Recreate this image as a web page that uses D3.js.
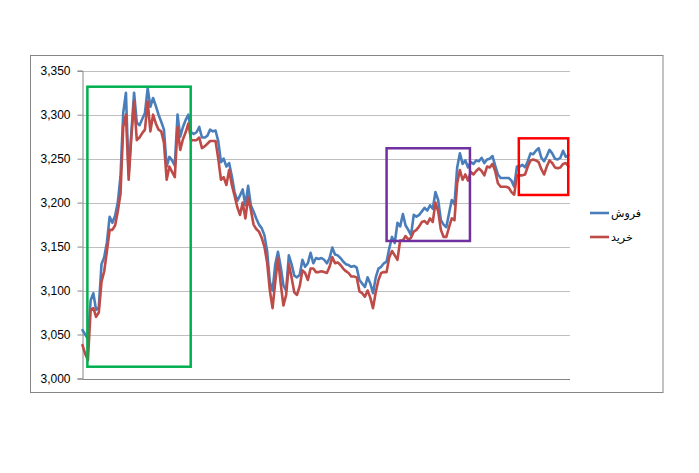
<!DOCTYPE html>
<html>
<head>
<meta charset="utf-8">
<script src="https://cdn.jsdelivr.net/npm/d3@7/dist/d3.min.js"></script>
<style>
  html, body { margin: 0; padding: 0; background: #fff; }
  svg { display: block; }
</style>
</head>
<body>
<div id="chart"></div>
<script>
// ---- data ----
const seriesNames = ["فروش", "خرید"];
const sellValues = [
  3055,3050,3045,3089,3097,3078,3081,3130,3138,3155,
  3184,3177,3185,3200,3230,3302,3325,3232,3280,3325,
  3291,3288,3295,3302,3330,3309,3319,3310,3300,3292,
  3283,3241,3252,3248,3242,3300,3275,3286,3294,3300,
  3280,3278,3280,3286,3274,3274,3276,3283,3281,3282,
  3270,3246,3250,3241,3245,3230,3212,3202,3208,3215,
  3197,3219,3197,3190,3182,3175,3171,3163,3145,3110,
  3100,3130,3144,3127,3106,3100,3140,3130,3117,3115,
  3118,3135,3127,3131,3143,3131,3137,3136,3137,3135,
  3131,3137,3149,3141,3140,3137,3133,3130,3129,3127,
  3128,3126,3112,3108,3104,3115,3108,3097,3115,3125,
  3127,3131,3133,3148,3161,3154,3177,3173,3187,3174,
  3169,3163,3186,3184,3186,3190,3194,3191,3197,3193,
  3212,3203,3180,3175,3172,3188,3203,3198,3240,3256,
  3244,3248,3240,3246,3244,3248,3247,3251,3245,3249,
  3250,3253,3242,3232,3228,3228,3228,3228,3225,3218,
  3241,3241,3243,3240,3247,3256,3255,3259,3262,3251,
  3247,3253,3260,3256,3250,3249,3251,3259,3252,3254
];
const buyValues = [
  3038,3028,3021,3078,3080,3070,3075,3110,3122,3145,
  3169,3169,3174,3190,3210,3286,3300,3226,3275,3315,
  3271,3274,3279,3283,3315,3281,3300,3290,3283,3281,
  3268,3226,3241,3235,3229,3286,3260,3272,3280,3290,
  3271,3271,3271,3274,3262,3264,3267,3270,3270,3270,
  3250,3226,3229,3220,3237,3220,3208,3195,3186,3200,
  3182,3206,3192,3175,3170,3167,3160,3150,3132,3100,
  3080,3110,3137,3108,3083,3095,3130,3115,3098,3095,
  3105,3123,3120,3112,3125,3125,3121,3121,3122,3121,
  3120,3127,3138,3131,3132,3129,3125,3122,3120,3116,
  3116,3115,3099,3097,3093,3100,3092,3080,3098,3112,
  3120,3121,3121,3138,3145,3140,3135,3157,3157,3162,
  3158,3160,3167,3169,3173,3178,3179,3176,3182,3178,
  3200,3190,3169,3161,3161,3172,3182,3180,3222,3237,
  3226,3232,3225,3235,3232,3236,3239,3236,3231,3241,
  3240,3244,3236,3222,3218,3218,3218,3217,3212,3209,
  3231,3231,3231,3232,3241,3248,3249,3248,3246,3238,
  3232,3241,3248,3245,3240,3239,3240,3244,3245,3241
];
const yTicks = [3000, 3050, 3100, 3150, 3200, 3250, 3300, 3350];
// annotation boxes in data units: [startIndex, endIndex, topValue, bottomValue]
const boxStart = [1.8, 112.0, 160.7];
const boxEnd = [39.85, 142.7, 178.9];
const boxTop = [3331.8, 3261.8, 3273.1];
const boxBottom = [3013.4, 3156.4, 3208.7];
const boxColors = ["#00b050", "#7030a0", "#ff0000"];
const seriesColors = ["#4a7ebb", "#be4b48"];

// ---- drawing ----
const W = 699, H = 473;
const svg = d3.select("#chart").append("svg").attr("width", W).attr("height", H);

// outer chart border
svg.append("rect")
  .attr("x", 30.5).attr("y", 55.5)
  .attr("width", 632.5).attr("height", 337)
  .attr("fill", "#fff").attr("stroke", "#868686").attr("stroke-width", 1);

const plotLeft = 82.5, plotRight = 570, plotTop = 70.7, plotBottom = 378.5;
const x = d3.scaleLinear().domain([0, sellValues.length - 1]).range([plotLeft, 568.5]);
const y = d3.scaleLinear().domain([3000, 3350]).range([plotBottom, plotTop]);

// gridlines
svg.append("g")
  .selectAll("line").data(yTicks.slice(1)).join("line")
  .attr("x1", plotLeft).attr("x2", plotRight)
  .attr("y1", d => Math.round(y(d)) + 0.5).attr("y2", d => Math.round(y(d)) + 0.5)
  .attr("stroke", "#bfbfbf").attr("stroke-width", 1);

// y axis
const yAxis = d3.axisLeft(y).tickValues(yTicks).tickSize(5).tickPadding(7)
  .tickFormat(d3.format(","));
const gy = svg.append("g").attr("transform", `translate(${plotLeft},0)`).call(yAxis);
gy.select(".domain").attr("stroke", "#868686");
gy.selectAll(".tick line").attr("stroke", "#868686");
gy.selectAll(".tick text")
  .attr("font-family", "'Liberation Sans', Arial, sans-serif")
  .attr("font-size", "12px").attr("fill", "#000");

// x axis line (bottom)
svg.append("line")
  .attr("x1", plotLeft).attr("x2", plotRight)
  .attr("y1", Math.round(y(3000)) + 0.5).attr("y2", Math.round(y(3000)) + 0.5)
  .attr("stroke", "#868686");

// series lines
const line = d3.line().x((d, i) => x(i)).y(d => y(d));
[sellValues, buyValues].forEach((vals, k) => {
  svg.append("path").datum(vals)
    .attr("d", line)
    .attr("fill", "none")
    .attr("stroke", seriesColors[k])
    .attr("stroke-width", 2.6)
    .attr("stroke-linejoin", "round")
    .attr("stroke-linecap", "round");
});

// annotation boxes
boxStart.forEach((s, k) => {
  svg.append("rect")
    .attr("x", x(s)).attr("y", y(boxTop[k]))
    .attr("width", x(boxEnd[k]) - x(s))
    .attr("height", y(boxBottom[k]) - y(boxTop[k]))
    .attr("fill", "none").attr("stroke", boxColors[k]).attr("stroke-width", 2.5);
});

// legend
const legend = svg.append("g");
seriesNames.forEach((name, k) => {
  const ly = 213 + k * 24;
  legend.append("line")
    .attr("x1", 590).attr("x2", 609).attr("y1", ly).attr("y2", ly)
    .attr("stroke", seriesColors[k]).attr("stroke-width", 2.6);
  legend.append("text")
    .attr("x", 611).attr("y", ly + 4)
    .attr("font-family", "'DejaVu Sans', sans-serif")
    .attr("font-size", "11px")
    .attr("fill", "#000")
    .attr("direction", "ltr")
    .text(name);
});
</script>
</body>
</html>
